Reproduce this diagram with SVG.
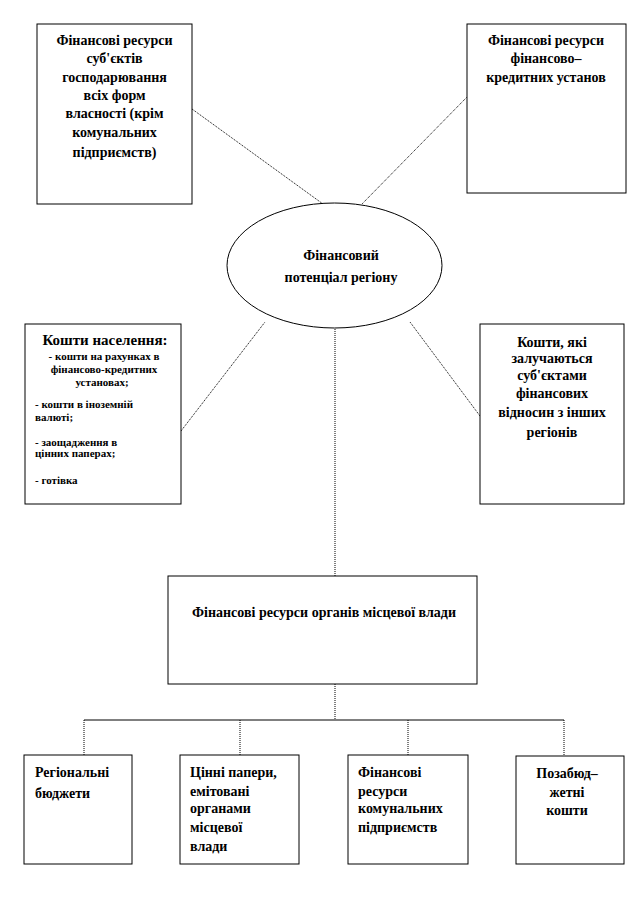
<svg xmlns="http://www.w3.org/2000/svg" width="636" height="900" viewBox="0 0 636 900">
<style>
.box{fill:#fff;stroke:#000;stroke-width:1}
.t{font-family:"Liberation Serif","Times New Roman",serif;font-weight:bold;font-size:14px;fill:#000}
.s{font-family:"Liberation Serif","Times New Roman",serif;font-weight:bold;font-size:11px;fill:#000}
.c{text-anchor:middle}
.ln{stroke:#000;stroke-width:1;fill:none}
.dl{stroke:#000;stroke-width:1;fill:none;stroke-dasharray:1 1}
</style>
<rect width="636" height="900" fill="#fff"/>
<g id="connectors">
<line class="dl" x1="192" y1="109" x2="323" y2="204"/>
<line class="dl" x1="468" y1="96" x2="362" y2="204"/>
<line class="dl" x1="181" y1="431" x2="265" y2="322"/>
<line class="dl" x1="480" y1="416" x2="410" y2="322"/>
<line class="dl" x1="335" y1="327" x2="335" y2="576"/>
<line class="dl" x1="335" y1="684" x2="335" y2="720"/>
<line class="ln" x1="84" y1="720" x2="564" y2="720"/>
<line class="dl" x1="84" y1="720" x2="84" y2="755"/>
<line class="dl" x1="240" y1="720" x2="240" y2="755"/>
<line class="dl" x1="408" y1="720" x2="408" y2="755"/>
<line class="dl" x1="564" y1="720" x2="564" y2="755"/>
</g>
<g id="node-subjects">
<rect class="box" x="37" y="24" width="155" height="180"/>
<text class="t c" x="114.5" y="45">Фінансові ресурси</text>
<text class="t c" x="114.5" y="63">суб'єктів</text>
<text class="t c" x="114.5" y="82">господарювання</text>
<text class="t c" x="114.5" y="100">всіх  форм</text>
<text class="t c" x="114.5" y="118">власності (крім</text>
<text class="t c" x="114.5" y="137">комунальних</text>
<text class="t c" x="114.5" y="157">підприємств)</text>
</g>
<g id="node-credit">
<rect class="box" x="467" y="24" width="159" height="169"/>
<text class="t c" x="546" y="45">Фінансові ресурси</text>
<text class="t c" x="546" y="63">фінансово–</text>
<text class="t c" x="546" y="82">кредитних установ</text>
</g>
<g id="node-center">
<ellipse class="box" cx="334.5" cy="265.5" rx="107.5" ry="62.5"/>
<text class="t c" x="341" y="260">Фінансовий</text>
<text class="t c" x="341" y="282">потенціал регіону</text>
</g>
<g id="node-population">
<rect class="box" x="25" y="324" width="156" height="180"/>
<text class="t c" x="105" y="345" style="font-size:15px">Кошти населення:</text>
<text class="s c" x="104" y="360">- кошти на рахунках  в</text>
<text class="s c" x="104" y="373">фінансово-кредитних</text>
<text class="s c" x="102" y="386">установах;</text>
<text class="s" x="35" y="408">- кошти в іноземній</text>
<text class="s" x="35" y="421">валюті;</text>
<text class="s" x="35" y="446">- заощадження в</text>
<text class="s" x="35" y="457">цінних   паперах;</text>
<text class="s" x="35" y="484">- готівка</text>
</g>
<g id="node-other-regions">
<rect class="box" x="480" y="324" width="144" height="180"/>
<text class="t c" x="552" y="347">Кошти, які</text>
<text class="t c" x="552" y="363">залучаються</text>
<text class="t c" x="552" y="380">суб'єктами</text>
<text class="t c" x="552" y="398">фінансових</text>
<text class="t c" x="552" y="417">відносин з інших</text>
<text class="t c" x="552" y="437">регіонів</text>
</g>
<g id="node-local">
<rect class="box" x="168" y="576" width="309" height="108"/>
<text class="t c" x="324" y="617">Фінансові ресурси органів  місцевої влади</text>
</g>
<g id="node-budgets">
<rect class="box" x="24" y="755" width="108" height="109"/>
<text class="t" x="35" y="777">Регіональні</text>
<text class="t" x="35" y="798">бюджети</text>
</g>
<g id="node-securities">
<rect class="box" x="180" y="755" width="119" height="109"/>
<text class="t" x="190" y="777">Цінні папери,</text>
<text class="t" x="190" y="796">емітовані</text>
<text class="t" x="190" y="813">органами</text>
<text class="t" x="190" y="832">місцевої</text>
<text class="t" x="190" y="851">влади</text>
</g>
<g id="node-communal">
<rect class="box" x="348" y="755" width="120" height="109"/>
<text class="t" x="358" y="777">Фінансові</text>
<text class="t" x="358" y="796">ресурси</text>
<text class="t" x="358" y="813">комунальних</text>
<text class="t" x="358" y="832">підприємств</text>
</g>
<g id="node-extrabudget">
<rect class="box" x="516" y="756" width="108" height="108"/>
<text class="t c" x="567" y="778">Позабюд–</text>
<text class="t c" x="567" y="797">жетні</text>
<text class="t c" x="567" y="815">кошти</text>
</g>
</svg>
